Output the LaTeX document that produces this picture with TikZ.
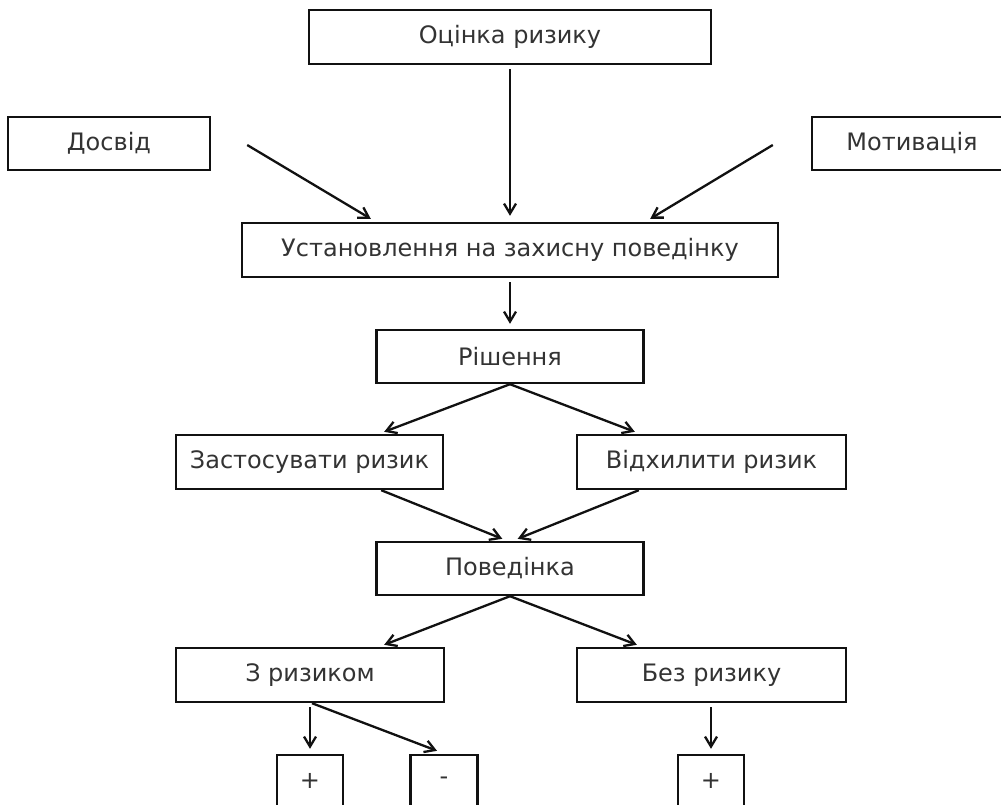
\documentclass[tikz,border=0pt]{standalone}
\usepackage{fontspec}
\setmainfont{DejaVu Sans}
\usetikzlibrary{arrows.meta,calc}
\definecolor{txt}{HTML}{333333}
\definecolor{ln}{HTML}{111111}
\begin{document}
\begin{tikzpicture}[x=1pt,y=-1pt,
  box/.style={draw=ln, line width=2.4pt, rectangle, inner sep=0pt,
    text=txt, font=\fontsize{24pt}{28pt}\selectfont},
  arr/.style={draw=ln, line width=2.3pt, -{Straight Barb[length=10pt,width=12pt,line width=2.3pt]}}]
\useasboundingbox (0,0) rectangle (1001,805);
\fill[white] (0,0) rectangle (1001,805);
\clip (0,0) rectangle (1001,805);

\node[box, minimum width=402pt, minimum height=54pt] (top) at (510,37) {Оцінка ризику};
\node[box, minimum width=202pt, minimum height=53pt] (dosvid) at (109,143.5) {Досвід};
\node[box, minimum width=200pt, minimum height=53pt] (motiv) at (912,143.5) {Мотивація};
\node[box, minimum width=536pt, minimum height=54pt] (ust) at (510,250) {Установлення на захисну поведінку};
\node[box, minimum width=267pt, minimum height=53pt] (rish) at (510,356.5) {Рішення};
\node[box, minimum width=267pt, minimum height=54pt] (zast) at (309.5,462) {Застосувати ризик};
\node[box, minimum width=269pt, minimum height=54pt] (vidh) at (711.5,462) {Відхилити ризик};
\node[box, minimum width=267pt, minimum height=53pt] (poved) at (510,568.5) {Поведінка};
\node[box, minimum width=268pt, minimum height=54pt] (zryz) at (310,675) {З ризиком};
\node[box, minimum width=269pt, minimum height=54pt] (bezr) at (711.5,675) {Без ризику};
\node[box, minimum width=66pt, minimum height=52pt] (plus1) at (310,781) {+};
\node[box, minimum width=67pt, minimum height=52pt] (minus) at (444,781) {-};
\node[box, minimum width=66pt, minimum height=52pt] (plus2) at (711,781) {+};

\draw[arr, shorten <=4pt, shorten >=6pt] (top.south) -- (top.south |- ust.north);
\draw[arr] ($(dosvid.east)+(36,1.5)$) -- ($(ust.north west)+(130,-3)$);
\draw[arr] ($(motiv.west)+(-38,1.5)$) -- ($(ust.north east)+(-129,-3)$);
\draw[arr, shorten <=4pt, shorten >=5pt] (ust.south) -- (rish.north);
\draw[arr] (rish.south) -- ($(zast.north east)+(-60,-2)$);
\draw[arr] (rish.south) -- ($(vidh.north west)+(59,-2)$);
\draw[arr] ($(zast.south east)+(-63,0)$) -- ($(poved.north west)+(127,-2)$);
\draw[arr] ($(vidh.south west)+(63,0)$) -- ($(poved.north east)+(-127,-2)$);
\draw[arr] (poved.south) -- ($(zryz.north east)+(-61,-2)$);
\draw[arr] (poved.south) -- ($(bezr.north west)+(61,-2)$);
\draw[arr, shorten <=4pt, shorten >=5pt] (zryz.south) -- (plus1.north);
\draw[arr] ($(zryz.south)+(2,0)$) -- ($(minus.north)+(-7,-3)$);
\draw[arr, shorten <=4pt, shorten >=5pt] (bezr.south -| plus2.north) -- (plus2.north);
\end{tikzpicture}
\end{document}
